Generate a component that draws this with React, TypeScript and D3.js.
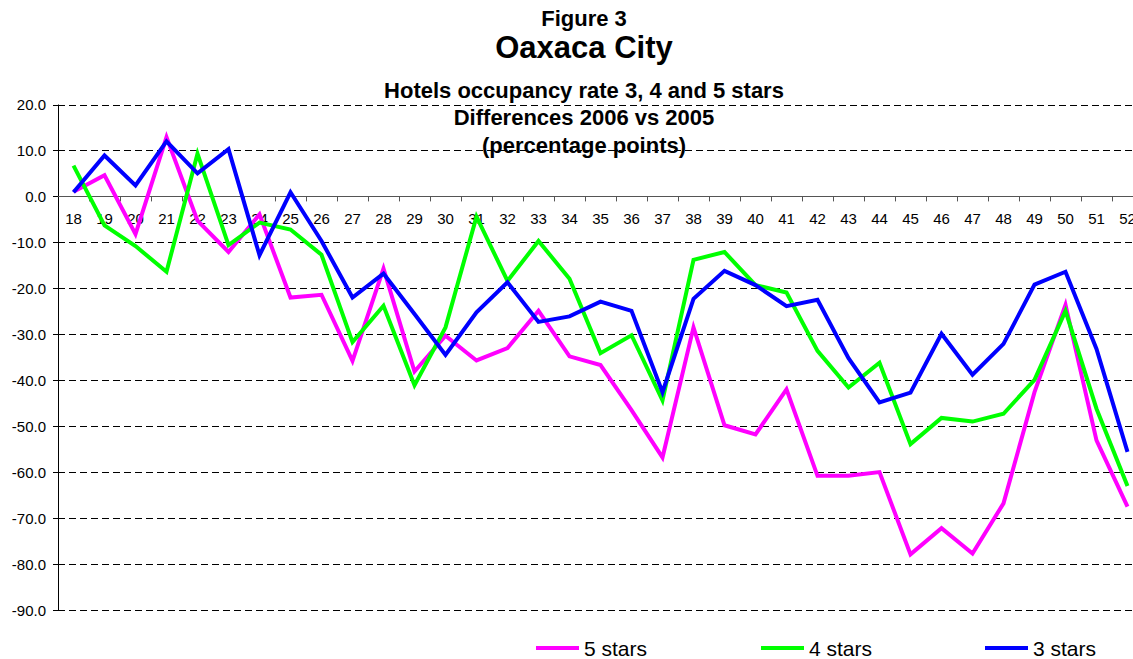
import React from "react";
import * as d3 from "d3";

const weeks = d3.range(18, 53).map(String);
const fiveStars = [1.0, 4.6, -8.2, 12.9, -5.3, -12.1, -3.9, -22.0, -21.4, -35.8, -15.7, -38.1, -30.3, -35.7, -33.0, -24.9, -34.8, -36.7, -46.5, -56.8, -28.5, -49.8, -51.8, -42.0, -60.8, -60.8, -60.0, -77.9, -72.2, -77.7, -66.8, -42.6, -23.6, -53.1, -67.5];
const fourStars = [6.7, -6.3, -10.8, -16.4, 9.3, -10.6, -5.7, -7.2, -12.7, -31.7, -23.8, -41.1, -28.5, -4.4, -18.4, -9.7, -17.9, -34.1, -30.2, -44.4, -13.8, -12.1, -19.3, -20.9, -33.6, -41.6, -36.2, -53.9, -48.2, -49.0, -47.3, -39.9, -24.9, -46.2, -63.0];
const threeStars = [0.9, 8.9, 2.4, 12.0, 5.0, 10.3, -12.8, 0.9, -9.7, -22.0, -16.8, -25.6, -34.5, -25.2, -18.7, -27.3, -26.1, -22.9, -24.9, -42.6, -22.3, -16.2, -19.3, -23.9, -22.5, -35.2, -44.8, -42.7, -29.9, -38.8, -32.1, -19.2, -16.4, -33.2, -55.6];
const yTicks = d3.range(20, -91, -10);
const seriesNames = ["5 stars", "4 stars", "3 stars"];
const seriesColors = ["#FF00FF", "#00FF00", "#0000FF"];
const titles = ["Figure 3", "Oaxaca City", "Hotels occupancy rate 3, 4 and 5 stars", "Differences 2006 vs 2005", "(percentage points)"];

const W = 1133;
const H = 659;
const FONT = "'Liberation Sans', Arial, Helvetica, sans-serif";

export default function App() {
  const x0 = 58;
  const step = 31;
  const x = d3.scalePoint<string>().domain(weeks).range([x0, x0 + weeks.length * step]).padding(0.5);
  const y = d3.scaleLinear().domain([-90, 20]).range([610, 104.5]);
  const line = d3
    .line<number>()
    .x((_, i) => x(weeks[i]) as number)
    .y((d) => y(d));
  const allSeries = [fiveStars, fourStars, threeStars];
  const titleY = [26, 58, 98, 125, 153];
  const titleSize = [22, 31, 22, 22, 22];
  const legendX = [536, 761, 985];

  return (
    <svg width={W} height={H} style={{ position: "absolute", left: 0, top: 0, background: "#fff" }} fontFamily={FONT}>
      <rect width={W} height={H} fill="#fff" />
      {/* gridlines */}
      {yTicks.filter((t) => t !== 0).map((t) => (
        <line key={t} x1={x0} x2={W} y1={Math.round(y(t)) + 0.5} y2={Math.round(y(t)) + 0.5} stroke="#000" strokeWidth={1} strokeDasharray="7,4" />
      ))}
      {/* y axis */}
      <line x1={x0 + 0.5} x2={x0 + 0.5} y1={y(20)} y2={y(-90)} stroke="#000" strokeWidth={1} />
      {yTicks.map((t) => (
        <g key={t}>
          <line x1={x0 - 5} x2={x0} y1={Math.round(y(t)) + 0.5} y2={Math.round(y(t)) + 0.5} stroke="#000" />
          <text x={46} y={y(t)} textAnchor="end" dominantBaseline="central" fontSize={15} fill="#000">
            {t.toFixed(1)}
          </text>
        </g>
      ))}
      {/* x axis */}
      <line x1={x0} x2={W} y1={Math.round(y(0)) + 0.5} y2={Math.round(y(0)) + 0.5} stroke="#555" strokeWidth={1} />
      {weeks.map((w, i) => (
        <g key={w}>
          <line x1={x0 + (i + 1) * step + 0.5} x2={x0 + (i + 1) * step + 0.5} y1={y(0)} y2={y(0) + 5} stroke="#555" />
          <text x={x(w)} y={224} textAnchor="middle" fontSize={15} fill="#000">
            {w}
          </text>
        </g>
      ))}
      {/* titles */}
      {titles.map((t, i) => (
        <text key={t} x={584} y={titleY[i]} textAnchor="middle" fontWeight="bold" fontSize={titleSize[i]} fill="#000">
          {t}
        </text>
      ))}
      {/* series */}
      {allSeries.map((s, i) => (
        <path key={seriesNames[i]} d={line(s) || ""} fill="none" stroke={seriesColors[i]} strokeWidth={4} strokeLinejoin="miter" />
      ))}
      {/* legend */}
      {seriesNames.map((n, i) => (
        <g key={n}>
          <line x1={legendX[i]} x2={legendX[i] + 43} y1={648} y2={648} stroke={seriesColors[i]} strokeWidth={4} />
          <text x={legendX[i] + 48} y={656} fontSize={21} fill="#000">
            {n}
          </text>
        </g>
      ))}
    </svg>
  );
}
